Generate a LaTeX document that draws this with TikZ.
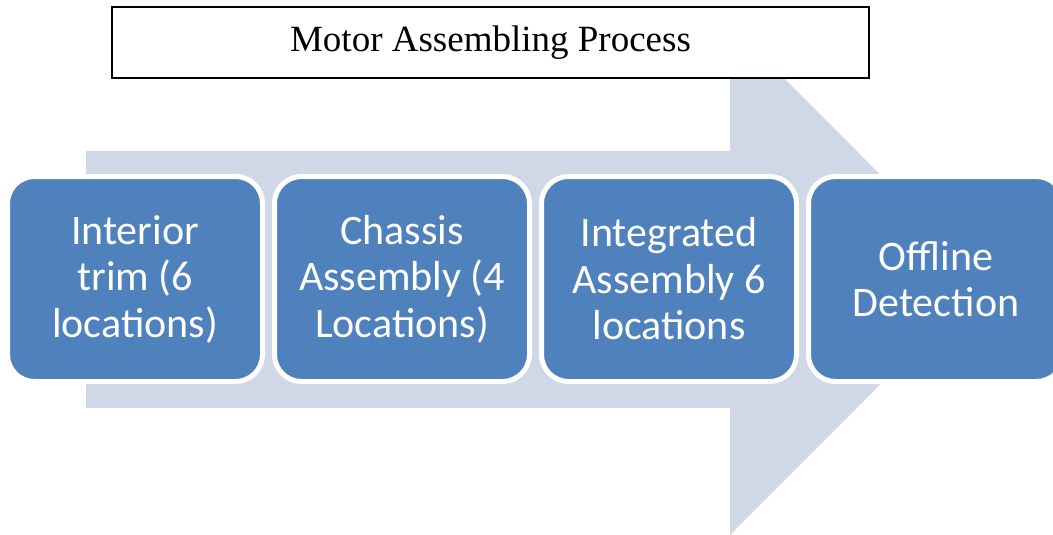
\documentclass[tikz,border=0pt]{standalone}
\usepackage{fontspec}
\setmainfont{Liberation Serif}
\newfontfamily\boxfont{Carlito}
\usetikzlibrary{positioning}
\definecolor{stepblue}{HTML}{4F81BD}
\definecolor{arrowblue}{HTML}{D0D8E8}
\tikzset{
  stepbox/.style={rectangle, rounded corners=27pt, fill=stepblue, draw=white, line width=5pt,
    minimum width=255pt, minimum height=205pt, inner sep=0pt, align=center, text=white,
    font=\boxfont\fontsize{42}{46.5}\selectfont},
  titlebox/.style={rectangle, draw=black, line width=1.5pt, fill=white,
    minimum width=757pt, minimum height=71pt, font=\fontsize{37}{42}\selectfont}
}
\begin{document}
\begin{tikzpicture}[x=1pt, y=-1pt]
    \useasboundingbox (0,0) rectangle (1053,535);

    % Seta de fundo
    \fill[arrowblue] (86,151) -- (730,151) -- (730,24) -- (985,279.5) -- (730,535)
        -- (730,408) -- (86,408) -- cycle;

    % Titulo
    \node[titlebox] (title) at (490.5,42.5) {Motor Assembling Process};

    % Etapas
    \node[stepbox] (trim) at (135,279) {Interior\\trim (6\\locations)};
    \node[stepbox, right=7pt of trim] (chassis) {Chassis\\Assembly (4\\Locations)};
    \node[stepbox, right=7pt of chassis] (integrated) {Integrated\\Assembly 6\\locations};
    \node[stepbox, right=7pt of integrated] (offline) {Offline\\Detection};
\end{tikzpicture}
\end{document}
